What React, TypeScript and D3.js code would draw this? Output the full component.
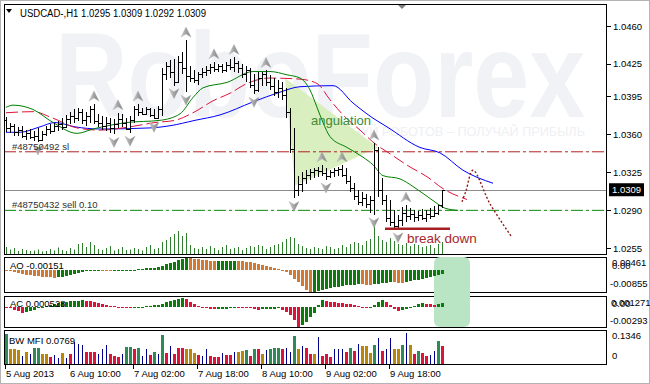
import React from 'react';
import * as d3 from 'd3';

const headerText = 'USDCAD-,H1  1.0295 1.0309 1.0292 1.0309';
const timeTickIdx = [0, 16, 32, 48, 64, 80, 96];
const timeTickLabels = ['5 Aug 2013', '6 Aug 10:00', '7 Aug 02:00', '7 Aug 18:00', '8 Aug 10:00', '9 Aug 02:00', '9 Aug 18:00'];
const priceTicks = [1.046, 1.0425, 1.0395, 1.036, 1.0325, 1.029, 1.0255];
const bidPrice = 1.0309;
const slPrice = 1.0344;
const sellPrice = 1.029;
const breakPrice = 1.0273;
const breakIdx = [94.75, 111];

const openP = [1.0373,1.0366,1.0368,1.0362,1.0364,1.0359,1.0361,1.0358,1.0359,1.0355,
1.0360,1.0365,1.0363,1.0368,1.0370,1.0367,1.0374,1.0377,1.0375,1.0381,
1.0373,1.0377,1.0383,1.0372,1.0371,1.0368,1.0371,1.0366,1.0370,1.0374,
1.0371,1.0365,1.0373,1.0383,1.0381,1.0379,1.0383,1.0378,1.0375,1.0383,
1.0416,1.0423,1.0418,1.0408,1.0427,1.0421,1.0414,1.0412,1.0410,1.0416,
1.0418,1.0419,1.0422,1.0420,1.0423,1.0419,1.0424,1.0422,1.0426,1.0421,
1.0416,1.0419,1.0406,1.0401,1.0412,1.0416,1.0408,1.0405,1.0399,1.0403,
1.0396,1.0381,1.0347,1.0309,1.0314,1.0320,1.0323,1.0325,1.0327,1.0326,
1.0324,1.0322,1.0325,1.0327,1.0328,1.0323,1.0317,1.0311,1.0303,1.0298,
1.0301,1.0296,1.0300,1.0346,1.0309,1.0300,1.0283,1.0279,1.0276,1.0281,
1.0288,1.0285,1.0287,1.0284,1.0286,1.0283,1.0287,1.0285,1.0288,1.0295];
const highP = [1.0376,1.0371,1.0370,1.0367,1.0368,1.0364,1.0365,1.0363,1.0366,1.0363,
1.0368,1.0370,1.0371,1.0372,1.0375,1.0378,1.0381,1.0383,1.0384,1.0383,
1.0381,1.0386,1.0388,1.0379,1.0377,1.0376,1.0375,1.0374,1.0380,1.0379,
1.0375,1.0377,1.0386,1.0388,1.0384,1.0385,1.0384,1.0383,1.0386,1.0421,
1.0427,1.0429,1.0430,1.0432,1.0436,1.0447,1.0423,1.0419,1.0418,1.0421,
1.0423,1.0425,1.0427,1.0425,1.0425,1.0427,1.0430,1.0431,1.0428,1.0425,
1.0423,1.0421,1.0416,1.0418,1.0418,1.0419,1.0415,1.0412,1.0410,1.0408,
1.0403,1.0384,1.0366,1.0322,1.0325,1.0327,1.0328,1.0329,1.0330,1.0332,
1.0329,1.0327,1.0329,1.0330,1.0332,1.0329,1.0322,1.0315,1.0309,1.0307,
1.0305,1.0303,1.0352,1.0348,1.0320,1.0304,1.0300,1.0290,1.0286,1.0293,
1.0295,1.0292,1.0290,1.0289,1.0291,1.0290,1.0292,1.0294,1.0295,1.0309];
const lowP = [1.0362,1.0361,1.0359,1.0359,1.0357,1.0355,1.0356,1.0354,1.0353,1.0354,
1.0359,1.0360,1.0362,1.0363,1.0364,1.0366,1.0370,1.0371,1.0372,1.0370,
1.0368,1.0371,1.0370,1.0367,1.0364,1.0363,1.0361,1.0360,1.0366,1.0367,
1.0364,1.0361,1.0371,1.0377,1.0378,1.0378,1.0376,1.0374,1.0375,1.0377,
1.0410,1.0412,1.0405,1.0407,1.0416,1.0399,1.0408,1.0407,1.0406,1.0412,
1.0414,1.0416,1.0418,1.0418,1.0417,1.0418,1.0419,1.0418,1.0417,1.0412,
1.0408,1.0403,1.0397,1.0399,1.0405,1.0405,1.0401,1.0395,1.0394,1.0392,
1.0375,1.0343,1.0301,1.0303,1.0307,1.0314,1.0318,1.0320,1.0321,1.0322,
1.0318,1.0320,1.0321,1.0322,1.0321,1.0314,1.0307,1.0300,1.0295,1.0294,
1.0292,1.0288,1.0286,1.0302,1.0295,1.0279,1.0276,1.0274,1.0272,1.0276,
1.0279,1.0281,1.0279,1.0280,1.0281,1.0279,1.0282,1.0284,1.0286,1.0292];
const closeP = [1.0366,1.0368,1.0362,1.0364,1.0359,1.0361,1.0358,1.0359,1.0355,1.0360,
1.0365,1.0363,1.0368,1.0370,1.0367,1.0374,1.0377,1.0375,1.0381,1.0373,
1.0377,1.0383,1.0372,1.0371,1.0368,1.0371,1.0366,1.0370,1.0374,1.0371,
1.0365,1.0373,1.0383,1.0381,1.0379,1.0383,1.0378,1.0375,1.0383,1.0416,
1.0423,1.0418,1.0408,1.0427,1.0421,1.0414,1.0412,1.0410,1.0416,1.0418,
1.0419,1.0422,1.0420,1.0423,1.0419,1.0424,1.0422,1.0426,1.0421,1.0416,
1.0419,1.0406,1.0401,1.0412,1.0416,1.0408,1.0405,1.0399,1.0403,1.0396,
1.0381,1.0347,1.0309,1.0314,1.0320,1.0323,1.0325,1.0327,1.0326,1.0324,
1.0322,1.0325,1.0327,1.0328,1.0323,1.0317,1.0311,1.0303,1.0298,1.0301,
1.0296,1.0300,1.0346,1.0309,1.0300,1.0283,1.0279,1.0276,1.0281,1.0288,
1.0285,1.0287,1.0284,1.0286,1.0283,1.0287,1.0285,1.0288,1.0295,1.0309];

const volume = [700,450,600,300,500,400,300,350,450,250,
300,500,350,650,400,300,600,450,1000,1100,
700,1200,900,500,400,600,800,350,500,700,
400,450,600,500,350,700,900,500,600,1200,
1400,1700,2000,2300,1800,2100,900,600,500,700,
500,800,600,400,700,900,500,600,700,400,
600,800,700,900,800,500,700,900,1000,1200,
1500,1700,1600,1000,800,600,500,700,600,500,
800,700,500,600,900,700,1000,1200,1100,900,
1300,1500,2800,1800,1400,1200,1600,1300,1000,900,
1100,800,1000,900,700,800,900,600,1000,1200];

const fractalUpIdx = [22, 28, 33, 45, 52, 57, 65, 79, 84, 92, 100];
const fractalDownIdx = [8, 27, 31, 37, 42, 45, 62, 72, 80, 92, 98];

const jawIdx = [0,3.5,8.5,12.25,17.25,23.5,36,41,47.25,53.5,61.75,68.5,73.5,81.75,86.75,91.75,95.25,103.5,108.5,114.25,121.75];
const jawPrice = [1.0362,1.0362,1.0367,1.0371,1.0367,1.0365,1.0366,1.0368,1.0373,1.0378,1.0390,1.0399,1.0404,1.0405,1.0389,1.0375,1.0367,1.0348,1.0343,1.0327,1.0315];
const teethIdx = [0,6.75,11.75,17.75,23.5,31,37.25,42.25,47.25,51.75,56,60.25,66,73.5,77.75,81,84.25,88.5,92.75,95.25,101,105.25,109.25,115.25];
const teethPrice = [1.0380,1.0381,1.0375,1.0366,1.0364,1.0367,1.0371,1.0373,1.0381,1.0391,1.0398,1.0407,1.0412,1.0411,1.0407,1.0392,1.0378,1.0364,1.0350,1.0344,1.0330,1.0321,1.0310,1.0300];
const lipsIdx = [0,1.75,6.75,11.75,17.75,21.75,30.25,38.5,43.5,46.75,49.25,55.25,61.75,66,70.25,73.5,76,77.75,79.25,81,85.25,89.25,91.75,94.25,98.5,101.75,106.75,109.75,113];
const lipsPrice = [1.0385,1.0387,1.0383,1.0371,1.0361,1.0365,1.0371,1.0373,1.0379,1.0394,1.0403,1.0408,1.0418,1.0418,1.0415,1.0412,1.0401,1.0385,1.0371,1.0358,1.0348,1.0339,1.0332,1.0322,1.0319,1.0312,1.0299,1.0292,1.0290];

const angIdx = [69.75, 72.25, 93];
const angPrice = [1.0412, 1.0313, 1.0348];
const projIdx = [114, 115, 116.75, 121, 126.5];
const projPrice = [1.0298, 1.0308, 1.0327, 1.0296, 1.0265];

const aoValues = [-0.00037,-0.00055,-0.00092,-0.0013,-0.00166,-0.00185,-0.00204,-0.00222,-0.0024,-0.00259,
-0.0027,-0.00281,-0.00296,-0.00289,-0.00259,-0.00222,-0.00185,-0.00148,-0.00111,-0.00081,
-0.00055,-0.00037,-0.00022,-0.00015,-0.00022,-0.0003,-0.00037,-0.00033,-0.00026,-0.00018,
-0.00011,0.00002,0.00014,0.00028,0.00046,0.0006,0.00074,0.00092,0.00111,0.00161,
0.00231,0.00277,0.00323,0.00369,0.00415,0.00461,0.00443,0.00424,0.00406,0.00387,
0.00369,0.0035,0.00337,0.00346,0.0035,0.00355,0.0036,0.00364,0.0035,0.00332,
0.00313,0.0029,0.00267,0.00231,0.00194,0.00157,0.00115,0.00069,0.00023,-0.00019,
-0.00093,-0.00204,-0.00334,-0.00483,-0.00632,-0.00762,-0.00855,-0.00836,-0.00799,-0.00762,
-0.00725,-0.00699,-0.00669,-0.00647,-0.00625,-0.00602,-0.00584,-0.00565,-0.0055,-0.00558,
-0.00565,-0.00573,-0.00558,-0.00535,-0.00513,-0.00495,-0.00476,-0.00484,-0.00491,-0.00498,
-0.00476,-0.00446,-0.00409,-0.00372,-0.00335,-0.00298,-0.00261,-0.00224,-0.00187,-0.00151];

const acValues = [-0.00007,-0.00021,-0.00042,-0.00063,-0.00092,-0.00071,-0.00056,-0.00042,-0.00021,-0.00007,
0.00007,0.00021,0.00035,0.00049,0.00063,0.00071,0.00078,0.00085,0.00087,0.00092,
0.00085,0.00078,0.00071,0.00056,0.00042,0.00028,0.00014,0.00004,-0.00004,-0.00014,
-0.00021,-0.00025,-0.00017,-0.00007,0.0,0.00007,0.00014,0.00021,0.00028,0.00042,
0.00063,0.00085,0.00099,0.00113,0.001271,0.00113,0.00071,0.00042,0.00014,-0.00007,
-0.00021,-0.00035,-0.00039,-0.00035,-0.00031,-0.00028,-0.00021,-0.00014,-0.00017,-0.0002,
-0.00023,-0.00025,-0.00032,-0.00042,-0.00039,-0.00035,-0.00031,-0.00028,-0.00025,-0.00049,
-0.00078,-0.00113,-0.0019,-0.00293,-0.00268,-0.00226,-0.00155,-0.00085,0.00028,0.00099,
0.00085,0.00071,0.00063,0.00056,0.00049,0.00042,0.00035,0.00021,0.00014,-0.00007,
-0.00014,-0.00007,0.00028,0.00071,0.00099,0.00071,0.00028,-0.00028,-0.00063,-0.00049,
-0.00028,-0.00007,0.00014,0.00035,0.00049,0.00042,0.00035,0.00028,0.00035,0.000528];

const mfiValues = [0.129,0.0672,0.063,0.0588,0.0336,0.0504,0.042,0.0714,0.0714,0.042,
0.042,0.0294,0.0378,0.0252,0.0462,0.0252,0.042,0.0966,0.0882,0.084,
0.0504,0.0504,0.0504,0.042,0.063,0.084,0.042,0.0336,0.0294,0.042,
0.0756,0.0756,0.063,0.0714,0.0336,0.063,0.0378,0.0504,0.042,0.125,
0.0462,0.0798,0.042,0.0714,0.0714,0.063,0.063,0.0462,0.0378,0.0336,
0.063,0.0336,0.0294,0.0294,0.0462,0.0378,0.0378,0.0504,0.0504,0.0546,
0.0588,0.0336,0.0672,0.0672,0.042,0.0588,0.0672,0.0714,0.0714,0.063,
0.0714,0.0504,0.12,0.063,0.0798,0.0714,0.042,0.042,0.118,0.0336,
0.042,0.0294,0.063,0.0672,0.0672,0.0504,0.0714,0.0546,0.0882,0.0798,
0.0798,0.0462,0.084,0.115,0.0546,0.063,0.115,0.063,0.063,0.084,
0.1346,0.084,0.042,0.0546,0.0462,0.0336,0.0378,0.0546,0.1008,0.0769];
const mfiKinds = ['g','o','o','o','n','o','n','g','g','o',
'o','r','n','n','o','n','r','n','n','n',
'r','r','r','n','n','n','r','r','r','n',
'g','g','r','g','n','n','r','g','n','g',
'r','n','r','r','r','o','o','o','r','n',
'n','r','r','r','n','r','r','n','o','o',
'g','r','g','r','o','n','g','g','g','r',
'n','n','g','o','n','r','r','o','n','r',
'r','r','n','n','n','r','g','r','n','o',
'o','o','g','n','r','n','n','o','o','g',
'n','o','r','g','r','r','n','n','g','r'];
const mfiColorMap: Record<string, string> = { g: '#2e8b57', o: '#b8860b', r: '#dc143c', n: '#00008b' };

const FONT = "'Liberation Sans', Arial, Helvetica, sans-serif";

export default function App() {
  const n = closeP.length;
  const xs = d3.scaleLinear().domain([0, 109]).range([6, 442]);
  const ys = d3.scaleLinear().domain([1.0255, 1.046]).range([248.3, 26]);
  const vs = d3.scaleLinear().domain([0, 3000]).range([254, 224]);
  const aoY = d3.scaleLinear().domain([-0.00855, 0.00461]).range([292, 258]);
  const acY = d3.scaleLinear().domain([-0.00293, 0.001271]).range([327, 298]);
  const mfiY = d3.scaleLinear().domain([0, 0.1346]).range([364, 333]);

  const lineGen = d3.line<[number, number]>().x(d => xs(d[0])).y(d => ys(d[1])).curve(d3.curveMonotoneX);
  const jaw = lineGen(jawIdx.map((v, i) => [v, jawPrice[i]]));
  const teeth = lineGen(teethIdx.map((v, i) => [v, teethPrice[i]]));
  const lips = lineGen(lipsIdx.map((v, i) => [v, lipsPrice[i]]));
  const proj = d3.line<[number, number]>().x(d => xs(d[0])).y(d => ys(d[1])).curve(d3.curveCatmullRom)(projIdx.map((v, i) => [v, projPrice[i]]));
  const ang = angIdx.map((v, i) => `${xs(v)},${ys(angPrice[i])}`).join(' ');

  const idx = d3.range(n);
  const upArrow = 'M0,-5 L5,5 L0,2 L-5,5 Z';
  const downArrow = 'M0,5 L5,-5 L0,-2 L-5,-5 Z';

  const panelX0 = 4.5, panelW = 602;
  const rightX = 607;

  return (
    <svg width={650} height={384} style={{ position: 'absolute', left: 0, top: 0, background: '#fff' }} fontFamily={FONT}>
      <defs>
        <clipPath id="mainClip"><rect x={5} y={5} width={601} height={249} /></clipPath>
        <linearGradient id="arrowGrad" x1="0" y1="0" x2="1" y2="0">
          <stop offset="0" stopColor="#d0d0d0" />
          <stop offset="0.5" stopColor="#a2a2a2" />
          <stop offset="1" stopColor="#808080" />
        </linearGradient>
      </defs>
      <rect x={0} y={0} width={650} height={384} fill="#fff" />
      <rect x={0.5} y={0.5} width={649} height={383} fill="none" stroke="#b4b4b4" />

      {/* main panel */}
      <g clipPath="url(#mainClip)">
        <text x={55} y={117} fontSize={120} fontWeight="bold" fill="#f0f2f6" textLength={530} lengthAdjust="spacingAndGlyphs">RoboForex</text>
        <text x={300} y={136} fontSize={13} fill="#eef0f3" textLength={285} lengthAdjust="spacingAndGlyphs">ИСПОЛЬЗУЙ РОБОТОВ – ПОЛУЧАЙ ПРИБЫЛЬ</text>
        <polygon points={ang} fill="#d6edb8" opacity={0.9} />
        <line x1={4} x2={rightX} y1={ys(slPrice)} y2={ys(slPrice)} stroke="#b22222" strokeDasharray="12,3,3,3" />
        <line x1={4} x2={rightX} y1={ys(sellPrice)} y2={ys(sellPrice)} stroke="#0a8a0a" strokeDasharray="12,3,3,3" />
        <line x1={4} x2={rightX} y1={Math.round(ys(bidPrice)) + 0.5} y2={Math.round(ys(bidPrice)) + 0.5} stroke="#8c8c8c" />
        {idx.map(i => (
          <line key={'v' + i} x1={xs(i) + 0.5} x2={xs(i) + 0.5} y1={254} y2={vs(volume[i])} stroke="#2f7f2f" />
        ))}
        <path d={jaw || ''} fill="none" stroke="#0000ff" strokeWidth={1} />
        <path d={teeth || ''} fill="none" stroke="#dc143c" strokeWidth={1} strokeDasharray="12,4" />
        <path d={lips || ''} fill="none" stroke="#008000" strokeWidth={1} />
        <g stroke="#000" shapeRendering="crispEdges">
          {idx.map(i => {
            const x = xs(i) + 0.5;
            return (
              <g key={'b' + i}>
                <line x1={x} x2={x} y1={ys(highP[i])} y2={ys(lowP[i])} strokeWidth={1.3} />
                <line x1={x - 2} x2={x} y1={Math.round(ys(openP[i])) + 0.5} y2={Math.round(ys(openP[i])) + 0.5} />
                <line x1={x} x2={x + 2} y1={Math.round(ys(closeP[i])) + 0.5} y2={Math.round(ys(closeP[i])) + 0.5} />
              </g>
            );
          })}
        </g>
        {fractalUpIdx.map(i => (
          <path key={'fu' + i} d={upArrow} transform={`translate(${xs(i)},${ys(highP[i]) - 8})`} fill="url(#arrowGrad)" stroke="#a8a8a8" strokeWidth={0.4} />
        ))}
        {fractalDownIdx.map(i => (
          <path key={'fd' + i} d={downArrow} transform={`translate(${xs(i)},${ys(lowP[i]) + 8})`} fill="url(#arrowGrad)" stroke="#a8a8a8" strokeWidth={0.4} />
        ))}
        <line x1={xs(breakIdx[0])} x2={xs(breakIdx[1])} y1={ys(breakPrice)} y2={ys(breakPrice)} stroke="#a52020" strokeWidth={2.5} />
        <path d={proj || ''} fill="none" stroke="#8b1a1a" strokeWidth={1.4} strokeDasharray="2,2" />
        <text x={311} y={125} fontSize={13} fill="#3d8b37">angulation</text>
        <text x={407} y={243} fontSize={13.5} fill="#a8282c">break down</text>
        <text x={12} y={150} fontSize={9.5} fill="#303030">#48750492 sl</text>
        <text x={12} y={208} fontSize={9.5} fill="#303030">#48750432 sell 0.10</text>
      </g>
      <path d="M397,4 L407,4 L402,9 Z" fill="#808080" />
      <path d="M6,9 L12,9 L9,13 Z" fill="#000" />
      <text x={20} y={16.5} fontSize={10} fill="#000" textLength={186} lengthAdjust="spacingAndGlyphs">{headerText}</text>

      <rect x={panelX0} y={4.5} width={panelW} height={250} fill="none" stroke="#000" shapeRendering="crispEdges" />
      {priceTicks.map(p => (
        <g key={'pt' + p}>
          <line x1={rightX} x2={rightX + 4} y1={Math.round(ys(p)) + 0.5} y2={Math.round(ys(p)) + 0.5} stroke="#000" />
          <text x={613} y={ys(p) + 3.5} fontSize={9.5} fill="#000">{p.toFixed(4)}</text>
        </g>
      ))}
      <rect x={609} y={ys(bidPrice) - 6.5} width={35} height={13} fill="#000" />
      <text x={612} y={ys(bidPrice) + 3.5} fontSize={9.5} fill="#fff">{bidPrice.toFixed(4)}</text>

      <rect x={panelX0} y={257.5} width={panelW} height={35} fill="none" stroke="#000" shapeRendering="crispEdges" />
      <rect x={panelX0} y={296.5} width={panelW} height={31} fill="none" stroke="#000" shapeRendering="crispEdges" />
      <rect x={panelX0} y={330.5} width={panelW} height={34} fill="none" stroke="#000" shapeRendering="crispEdges" />

      <rect x={xs(108) - 4} y={257} width={36} height={70} rx={6} ry={6} fill="#b9e5c5" />

      <g shapeRendering="crispEdges">
        {idx.map(i => {
          const v = aoValues[i];
          const up = i > 0 && v > aoValues[i - 1];
          const y0 = aoY(0), y1 = aoY(v);
          return <rect key={'ao' + i} x={xs(i) - 1} width={3} y={Math.min(y0, y1)} height={Math.max(1, Math.abs(y1 - y0))} fill={up ? '#0e7a0e' : '#d27a34'} />;
        })}
        {idx.map(i => {
          const v = acValues[i];
          const up = i > 0 && v > acValues[i - 1];
          const y0 = acY(0), y1 = acY(v);
          return <rect key={'ac' + i} x={xs(i) - 1} width={3} y={Math.min(y0, y1)} height={Math.max(1, Math.abs(y1 - y0))} fill={up ? '#0e7a0e' : '#dc143c'} />;
        })}
        {idx.map(i => {
          const k = mfiKinds[i];
          const y1 = mfiY(mfiValues[i]);
          const w = k === 'n' ? 1 : 3;
          const x = k === 'n' ? xs(i) : xs(i) - 1;
          return <rect key={'mf' + i} x={x} width={w} y={y1} height={364 - y1} fill={mfiColorMap[k]} />;
        })}
      </g>

      <text x={10} y={269} fontSize={9.5} fill="#000">AO -0.00151</text>
      <text x={10} y={306.5} fontSize={9.5} fill="#000">AC 0.000528</text>
      <text x={9} y={344} fontSize={9.5} fill="#000">BW MFI 0.0769</text>

      <text x={612} y={266} fontSize={9.5} fill="#000">0.00461</text>
      <text x={612} y={269} fontSize={9.5} fill="#000">0.00</text>
      <text x={610} y={287} fontSize={9.5} fill="#000">-0.00855</text>
      <text x={611} y={305.5} fontSize={9.5} fill="#000">0.001271</text>
      <text x={612} y={307} fontSize={9.5} fill="#000">0.00</text>
      <text x={610} y={324} fontSize={9.5} fill="#000">-0.00293</text>
      <text x={612} y={339} fontSize={9.5} fill="#000">0.1346</text>
      <text x={612} y={359} fontSize={9.5} fill="#000">0</text>

      {timeTickIdx.map((t, j) => (
        <g key={'tt' + t}>
          <line x1={xs(t) - 0.5} x2={xs(t) - 0.5} y1={365} y2={369} stroke="#000" />
          <text x={xs(t)} y={377} fontSize={9.5} fill="#000">{timeTickLabels[j]}</text>
        </g>
      ))}
    </svg>
  );
}
